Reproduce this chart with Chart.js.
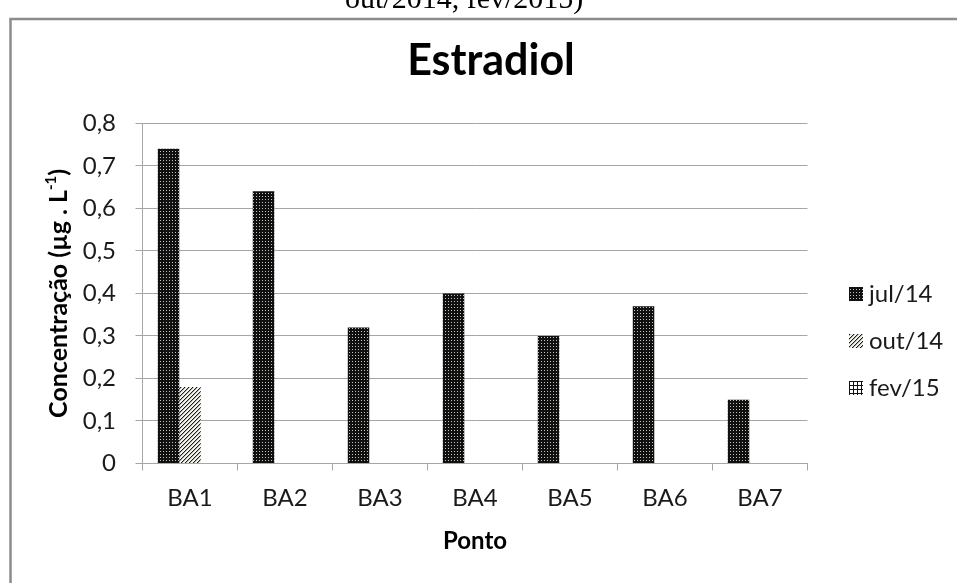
<!DOCTYPE html>
<html lang="pt">
<head>
<meta charset="utf-8">
<title>Estradiol</title>
<script src="https://cdn.jsdelivr.net/npm/chart.js@4.4.1/dist/chart.umd.min.js"></script>
<style>
  html, body { margin: 0; padding: 0; background: #ffffff; overflow: hidden; }
  #wrap { position: relative; width: 957px; height: 583px; }
  canvas { display: block; }
</style>
</head>
<body>
<div id="wrap"><canvas id="chart" width="957" height="583"></canvas></div>
<script>
// Sampling points (x axis)
const categories = ['BA1', 'BA2', 'BA3', 'BA4', 'BA5', 'BA6', 'BA7'];

// Estradiol concentration per campaign (µg/L)
const seriesNames = ['jul/14', 'out/14', 'fev/15'];
const jul14 = [0.74, 0.64, 0.32, 0.40, 0.30, 0.37, 0.15];
const out14 = [0.18, 0, 0, 0, 0, 0, 0];
const fev15 = [0, 0, 0, 0, 0, 0, 0];

// Y axis tick labels (Portuguese decimal comma)
const yTickLabels = ['0', '0,1', '0,2', '0,3', '0,4', '0,5', '0,6', '0,7', '0,8'];

const chartTitle = 'Estradiol';
const xTitle = 'Ponto';
const yTitleMain = 'Concentração (µg . L';
const yTitleSup = '-1';
const yTitleEnd = ')';
const captionText = 'out/2014, fev/2015)';

const ctxMain = document.getElementById('chart').getContext('2d');

// Fill patterns for the three series
function makePattern(size, paint) {
  const c = document.createElement('canvas');
  c.width = size; c.height = size;
  paint(c.getContext('2d'), size);
  return ctxMain.createPattern(c, 'repeat');
}

const dottedDark = makePattern(3, (g) => {
  g.fillStyle = '#101010'; g.fillRect(0, 0, 3, 3);
  g.fillStyle = '#c4c4bc'; g.fillRect(1, 1, 1, 1);
});

const diagonalHatch = makePattern(4, (g) => {
  g.fillStyle = '#f4f4ef'; g.fillRect(0, 0, 4, 4);
  for (let x = 0; x < 4; x++) {
    for (let y = 0; y < 4; y++) {
      const k = (x + y) % 4;
      if (k === 3) { g.fillStyle = '#1c1c1c'; g.fillRect(x, y, 1, 1); }
      else if (k === 0) { g.fillStyle = '#b4b4ae'; g.fillRect(x, y, 1, 1); }
    }
  }
});

const gridHatch = makePattern(4, (g) => {
  g.fillStyle = '#ffffff'; g.fillRect(0, 0, 4, 4);
  g.fillStyle = '#111111';
  g.fillRect(0, 1, 4, 1);
  g.fillRect(1, 0, 1, 4);
});

const seriesFills = [dottedDark, diagonalHatch, gridHatch];

const FONT = "Lato, 'Open Sans', sans-serif";
const TEXT_COLOR = '#1a1a1a';
const GRID_COLOR = '#a6a6a6';

// Outer frame and the caption line above the chart
const framePlugin = {
  id: 'frame',
  beforeDraw(chart) {
    const c = chart.ctx;
    c.save();
    c.fillStyle = '#ffffff';
    c.fillRect(0, 0, chart.width, chart.height);
    c.fillStyle = '#000000';
    c.font = "30px 'Liberation Serif', 'Times New Roman', serif";
    c.textBaseline = 'alphabetic';
    c.textAlign = 'left';
    c.fillText(captionText, 345, 8);
    c.strokeStyle = '#8c8c8c';
    c.lineWidth = 2.5;
    c.strokeRect(10.5, 19, 990, 600);
    c.restore();
  }
};

// Rotated y axis title with superscript exponent
const yTitlePlugin = {
  id: 'yTitle',
  afterDraw(chart) {
    const c = chart.ctx;
    const area = chart.chartArea;
    const cy = (area.top + area.bottom) / 2;
    const cx = 59;
    const mainFont = 'bold 25px ' + FONT;
    const supFont = 'bold 15px ' + FONT;
    c.save();
    c.font = mainFont;
    const w1 = c.measureText(yTitleMain).width;
    const w3 = c.measureText(yTitleEnd).width;
    c.font = supFont;
    const w2 = c.measureText(yTitleSup).width;
    const total = w1 + w2 + w3;
    c.translate(cx, cy);
    c.rotate(-Math.PI / 2);
    c.fillStyle = '#000000';
    c.textBaseline = 'middle';
    c.textAlign = 'left';
    let x = -total / 2;
    c.font = mainFont;
    c.fillText(yTitleMain, x, 0);
    x += w1;
    c.font = supFont;
    c.fillText(yTitleSup, x, -8);
    x += w2;
    c.font = mainFont;
    c.fillText(yTitleEnd, x, 0);
    c.restore();
  }
};

// Legend at the right, built from the datasets
const legendPlugin = {
  id: 'sideLegend',
  afterDraw(chart) {
    const c = chart.ctx;
    c.save();
    chart.data.datasets.forEach((ds, i) => {
      const yc = 294 + i * 47;
      c.fillStyle = ds.backgroundColor;
      c.fillRect(849, Math.round(yc - 7), 14, 14);
      c.fillStyle = TEXT_COLOR;
      c.font = '24px ' + FONT;
      c.textBaseline = 'middle';
      c.textAlign = 'left';
      c.fillText(ds.label, 869, yc);
    });
    c.restore();
  }
};

new Chart(ctxMain, {
  type: 'bar',
  data: {
    labels: categories,
    datasets: [
      { label: seriesNames[0], data: jul14, backgroundColor: seriesFills[0] },
      { label: seriesNames[1], data: out14, backgroundColor: seriesFills[1] },
      { label: seriesNames[2], data: fev15, backgroundColor: seriesFills[2] }
    ]
  },
  options: {
    responsive: false,
    animation: false,
    devicePixelRatio: 1,
    events: [],
    layout: { padding: { left: 25, right: 0, top: 0, bottom: 0 } },
    datasets: {
      bar: { barPercentage: 1, categoryPercentage: 0.678, borderWidth: 0 }
    },
    plugins: {
      legend: { display: false },
      tooltip: { enabled: false },
      title: {
        display: true,
        text: chartTitle,
        color: '#000000',
        font: { family: FONT, size: 43, weight: 'bold' },
        padding: { top: 35.2, bottom: 36.5 }
      }
    },
    scales: {
      x: {
        grid: { drawOnChartArea: false, drawTicks: true, tickLength: 7, color: GRID_COLOR },
        border: { color: GRID_COLOR },
        ticks: { color: TEXT_COLOR, font: { family: FONT, size: 24 }, padding: 13, maxRotation: 0 },
        title: {
          display: true,
          text: xTitle,
          color: '#000000',
          font: { family: FONT, size: 24, weight: 'bold' },
          padding: { top: 0, bottom: 27.6 }
        },
        afterFit(scale) { scale.height = 119.5; }
      },
      y: {
        min: 0,
        max: 0.8,
        ticks: {
          stepSize: 0.1,
          color: TEXT_COLOR,
          font: { family: FONT, size: 24 },
          padding: 19.5,
          callback: (v, i) => yTickLabels[i]
        },
        grid: { color: GRID_COLOR, tickLength: 7, drawTicks: true },
        border: { color: GRID_COLOR },
        afterFit(scale) { scale.width = 117.5; }
      },
      // reserves the legend column on the right
      legendSpace: {
        type: 'linear',
        position: 'right',
        display: true,
        grid: { display: false },
        border: { display: false },
        ticks: { display: false },
        afterFit(scale) { scale.width = 149.5; }
      }
    }
  },
  plugins: [framePlugin, yTitlePlugin, legendPlugin]
});
</script>
</body>
</html>
